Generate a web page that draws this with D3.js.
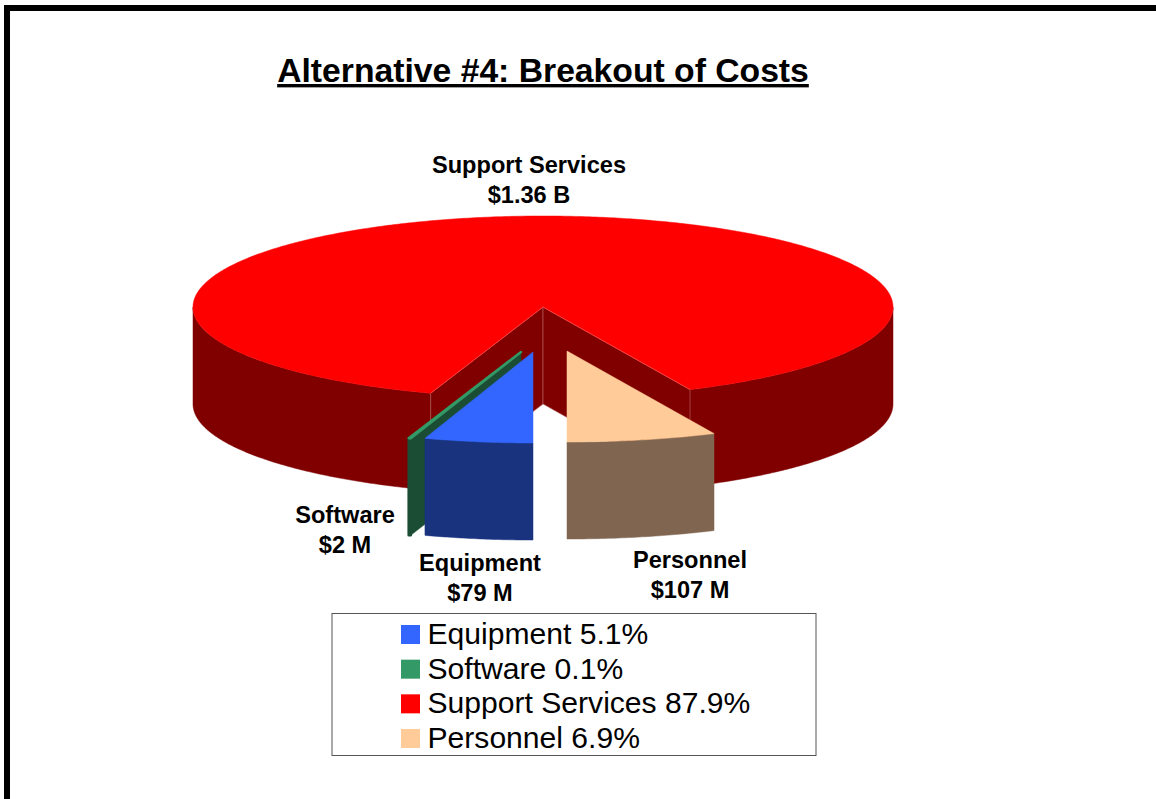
<!DOCTYPE html>
<html>
<head>
<meta charset="utf-8">
<title>Alternative #4: Breakout of Costs</title>
<script src="https://cdn.jsdelivr.net/npm/d3@7/dist/d3.min.js"></script>
<style>
  html, body { margin: 0; padding: 0; background: #fff; }
  svg { display: block; font-family: "Liberation Sans", Arial, sans-serif; }
</style>
</head>
<body>
<svg id="chart" width="1156" height="799"></svg>
<script>
// Cost categories, in the order they run round the pie
const categories = ["Equipment", "Software", "Support Services", "Personnel"];
const shares = [5.1, 0.1, 87.9, 6.9];
const amounts = ["$79 M", "$2 M", "$1.36 B", "$107 M"];
const topColors = ["#3366ff", "#339966", "#ff0000", "#ffcc99"];
const wallColors = ["#19337f", "#1a4d33", "#800000", "#806650"];

// Pie geometry: a tilted disc with a thick rim
const centre = { x: 543, y: 307 };
const radiusX = 350, radiusY = 91, depth = 97;
// How far each slice is pulled away from the centre, and its horizontal foreshortening
const explode = [[-10, 45], [-22, 45], [0, 0], [24, 44]];
const foreshorten = [0.98, 1, 1, 1];
// Callout anchors per category
const labelAnchors = [[480, 571], [345, 523], [529, 173], [690, 568]];

const svg = d3.select("#chart");

// Frame along the top and left edges
svg.append("rect").attr("x", 4).attr("y", 5).attr("width", 1152).attr("height", 6).attr("fill", "#000");
svg.append("rect").attr("x", 4).attr("y", 5).attr("width", 6).attr("height", 794).attr("fill", "#000");

svg.append("text")
  .attr("x", 543).attr("y", 82)
  .attr("text-anchor", "middle")
  .attr("font-size", 33.7).attr("font-weight", "bold")
  .attr("text-decoration", "underline")
  .text("Alternative #4: Breakout of Costs");

// Angles start at the front of the disc and run clockwise as seen on screen
const pie = d3.pie().sort(null).startAngle(Math.PI).endAngle(3 * Math.PI);
const slices = pie(shares).map((s, i) => ({
  ...s, i, ox: centre.x + explode[i][0], oy: centre.y + explode[i][1], squeeze: foreshorten[i]
}));

const xScale = d3.scaleLinear().domain([-1, 1]).range([-radiusX, radiusX]);
const yScale = d3.scaleLinear().domain([-1, 1]).range([radiusY, -radiusY]);
const rimPoint = (s, a, drop = 0) =>
  [s.ox + xScale(Math.sin(a)) * s.squeeze, s.oy + yScale(Math.cos(a)) + drop];
const line = d3.line();

function arcPoints(s, a0, a1, drop = 0) {
  const n = Math.max(2, Math.ceil(Math.abs(a1 - a0) / 0.01));
  return d3.range(n + 1).map(k => rimPoint(s, a0 + (a1 - a0) * k / n, drop));
}
function shape(points, fill, stroke, width) {
  return svg.append("path")
    .attr("d", line(points) + "Z")
    .attr("fill", fill)
    .attr("stroke", stroke || fill)
    .attr("stroke-width", width === undefined ? 0.5 : width)
    .attr("stroke-linejoin", "round");
}
// Outer rim wall between two angles
function rimWall(s, a0, a1, fill, stroke, width) {
  return shape([...arcPoints(s, a0, a1), ...arcPoints(s, a1, a0, depth)], fill, stroke, width);
}
// Flat cut wall running from the slice apex out to the rim
function cutWall(s, a, fill, stroke, width) {
  const apex = [s.ox, s.oy];
  return shape([apex, rimPoint(s, a), rimPoint(s, a, depth), [s.ox, s.oy + depth]], fill, stroke, width);
}
function topFace(s, fill, stroke, width) {
  return shape([[s.ox, s.oy], ...arcPoints(s, s.startAngle, s.endAngle)], fill, stroke, width);
}

// Large slice: visible rim, the two walls of the notch, then the top face
const support = slices[2];
const edge = "#b86a6a";
rimWall(support, support.startAngle, 1.5 * Math.PI, wallColors[2]);
rimWall(support, 2.5 * Math.PI, support.endAngle, wallColors[2]);
cutWall(support, support.startAngle, wallColors[2], edge, 0.6);
cutWall(support, support.endAngle, wallColors[2], edge, 0.6);
topFace(support, topColors[2], topColors[2], 0.5);
svg.append("path")
  .attr("d", line([rimPoint(support, support.startAngle), [support.ox, support.oy], rimPoint(support, support.endAngle)]))
  .attr("fill", "none").attr("stroke", "#ff6060").attr("stroke-width", 0.5);

// Thin software slice: its front cut wall is exposed, and it is stroked so it stays legible
const software = slices[1];
cutWall(software, software.startAngle, wallColors[1]);
rimWall(software, software.startAngle, software.endAngle, wallColors[1], wallColors[1], 2.5);
topFace(software, topColors[1], topColors[1], 2.5);

// Pulled-out equipment and personnel slices
[slices[0], slices[3]].forEach(s => {
  rimWall(s, s.startAngle, s.endAngle, wallColors[s.i]);
  topFace(s, topColors[s.i]);
});

// Category callouts
categories.forEach((name, i) => {
  const t = svg.append("text")
    .attr("text-anchor", "middle")
    .attr("font-size", 23.6).attr("font-weight", "bold");
  const [x, y] = labelAnchors[i];
  t.append("tspan").attr("x", x).attr("y", y).text(name);
  t.append("tspan").attr("x", x).attr("y", y + 30).text(amounts[i]);
});

// Legend box
svg.append("rect")
  .attr("x", 332).attr("y", 613.5).attr("width", 484).attr("height", 142)
  .attr("fill", "#fff").attr("stroke", "#555").attr("stroke-width", 1);

const legendY = d3.scalePoint().domain(categories).range([644, 748]);
const legend = svg.selectAll("g.legend-row").data(categories).join("g").attr("class", "legend-row");
legend.append("rect")
  .attr("x", 401).attr("y", d => legendY(d) - 19)
  .attr("width", 19).attr("height", 19)
  .attr("fill", (d, i) => topColors[i]);
legend.append("text")
  .attr("x", 427.5).attr("y", d => legendY(d))
  .attr("font-size", 30.1)
  .text((d, i) => `${d} ${shares[i].toFixed(1)}%`);
</script>
</body>
</html>
